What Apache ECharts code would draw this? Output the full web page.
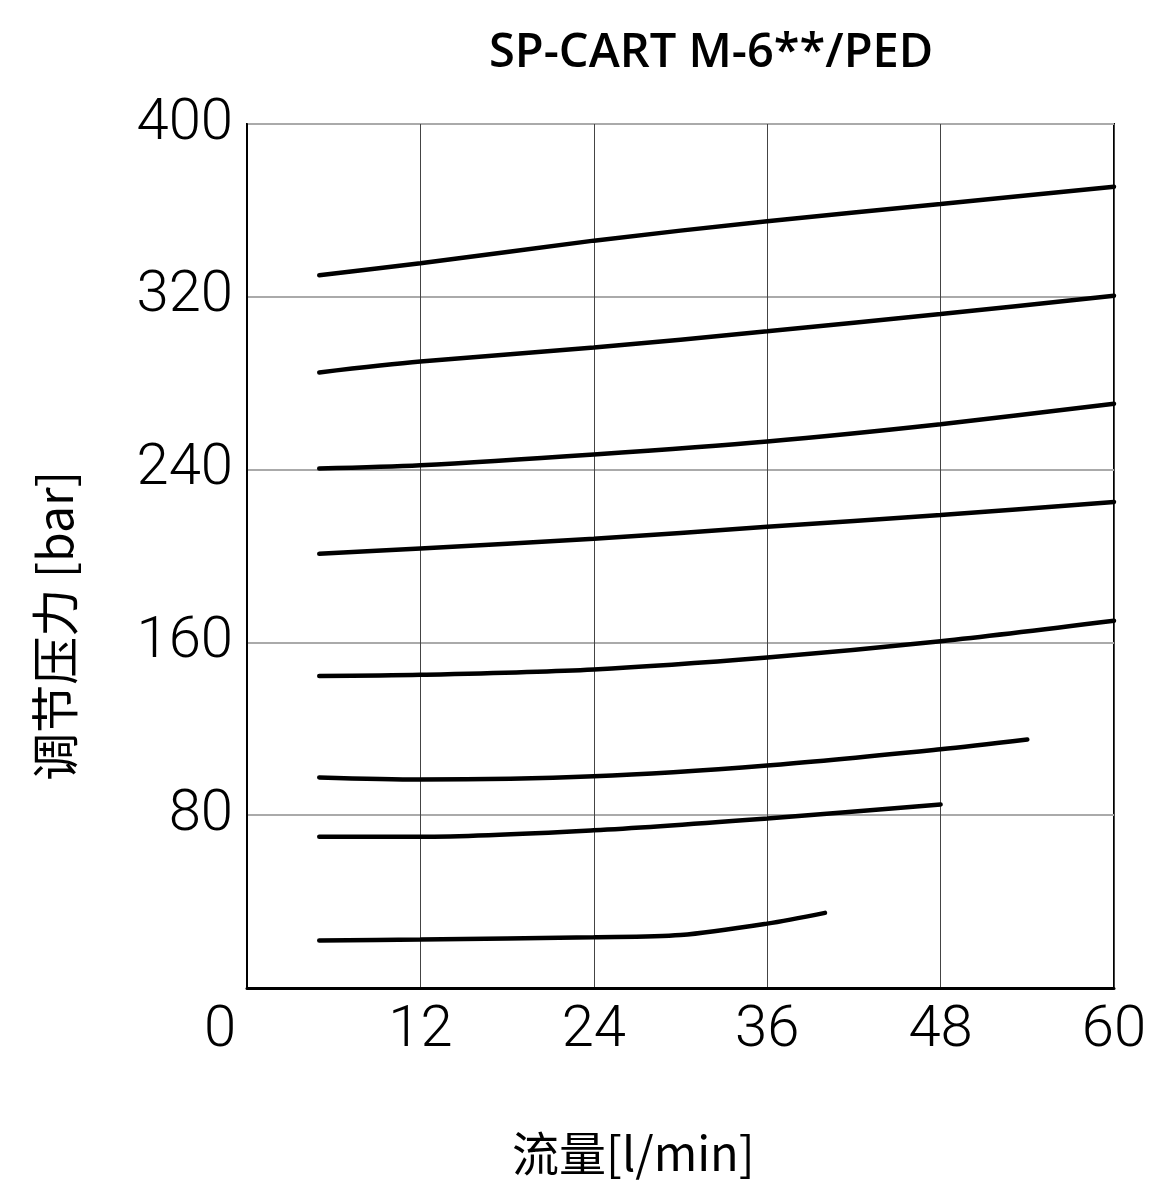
<!DOCTYPE html>
<html><head><meta charset="utf-8">
<script src="https://cdn.jsdelivr.net/npm/echarts@6/dist/echarts.min.js"></script>
<style>html,body{margin:0;padding:0;background:#fff}#c{width:1156px;height:1199px}</style>
</head><body><div id="c"></div>
<script>
const titleText = 'SP-CART M-6**/PED';
const xName = '流量[l/min]';
const yName = '调节压力 [bar]';
const xTicks = [0, 12, 24, 36, 48, 60];
const yTicks = [0, 80, 160, 240, 320, 400];
const s1 = [[5,330],[12,335.5],[24,346],[36,355],[48,363],[60,371]];
const s2 = [[5,285],[12,290],[24,296.5],[36,304],[48,312],[60,320.5]];
const s3 = [[5,240.5],[12,242],[24,247],[36,253],[48,261],[60,270.5]];
const s4 = [[5,201],[12,203.5],[24,208],[36,213.5],[48,219],[60,225]];
const s5 = [[5,144.5],[12,145],[24,147.5],[36,153],[48,160.5],[60,170]];
const s6 = [[5,97.5],[12,96.5],[24,98],[36,103],[48,110.5],[54,115]];
const s7 = [[5,70],[12,70],[24,73],[36,78.5],[48,85]];
const s8 = [[5,22],[12,22.5],[24,23.5],[30,24.5],[36,29.8],[40,34.8]];
const allSeries = [s1,s2,s3,s4,s5,s6,s7,s8];

const tickFont = "Roboto, sans-serif";
const chart = echarts.init(document.getElementById('c'));
chart.setOption({
  animation: false,
  backgroundColor: '#fff',
  grid: {left: 247, right: 42, top: 124, bottom: 211, show: true, borderColor: '#000', borderWidth: 2, backgroundColor: 'transparent'},
  graphic: [
    {type:'text', left: 489, top: 30, style:{text: titleText, font:"600 47px 'Open Sans', sans-serif", fill:'#000'}},
    {type:'text', left: 512, top: 1130, style:{text: xName, font:"47px 'Noto Sans CJK SC', sans-serif", fill:'#000'}},
    {type:'text', x: 55, y: 626, rotation: Math.PI/2, style:{text: yName, font:"48px 'Noto Sans CJK SC', sans-serif", fill:'#000', align:'center', verticalAlign:'middle'}}
  ],
  xAxis: {
    type:'value', min: xTicks[0], max: xTicks[xTicks.length-1], interval: 12,
    axisLine:{show:true, lineStyle:{color:'#000', width:3}},
    axisTick:{show:false},
    axisLabel:{margin: 14, color:'#000', fontFamily: tickFont, fontSize: 58, fontWeight: 300,
      formatter: v => (v === 0 ? '{z|0}' : String(v)),
      rich: {z: {fontFamily: tickFont, fontSize: 58, fontWeight: 300, color:'#000', padding:[0,54,0,0]}}},
    splitLine:{show:true, lineStyle:{color:'#444', width:1}}
  },
  yAxis: {
    type:'value', min: yTicks[0], max: yTicks[yTicks.length-1], interval: 80,
    axisLine:{show:true, lineStyle:{color:'#000', width:2}},
    axisTick:{show:false},
    axisLabel:{margin: 14, color:'#000', fontFamily: tickFont, fontSize: 58, fontWeight: 300,
      formatter: v => (v === 0 ? '' : String(v))},
    splitLine:{show:true, lineStyle:{color:'#aaa', width:2}}
  },
  series: allSeries.map(d => ({
    type:'line', data: d, smooth: 0.3, showSymbol: false, symbol:'none',
    lineStyle:{color:'#000', width:4.5, cap:'round'}
  }))
});
</script></body></html>
